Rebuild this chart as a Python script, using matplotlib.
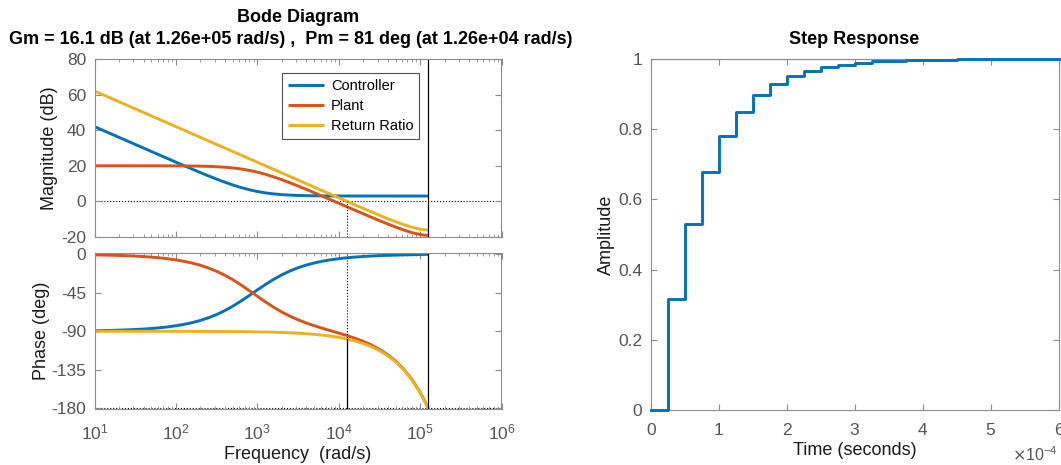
import numpy as np
import matplotlib
matplotlib.use('Agg')
import matplotlib.pyplot as plt
from matplotlib.ticker import LogLocator, NullFormatter

plt.rcParams['font.family'] = ['Liberation Sans', 'DejaVu Sans']
plt.rcParams['axes.unicode_minus'] = False

# ---------------- data ----------------
log_freq = [1.0, 1.1, 1.2, 1.3, 1.4, 1.5, 1.6, 1.7, 1.8, 1.9,
            2.0, 2.1, 2.2, 2.3, 2.4, 2.5, 2.6, 2.7, 2.8, 2.9,
            3.0, 3.1, 3.2, 3.3, 3.4, 3.5, 3.6, 3.7, 3.8, 3.9,
            4.0, 4.1, 4.2, 4.3, 4.4, 4.5, 4.6, 4.7, 4.8, 4.9,
            5.0, 5.05, 5.0992]

ctrl_mag = [42.01, 40.01, 38.01, 36.01, 34.01, 32.02, 30.02, 28.02, 26.03, 24.04,
            22.06, 20.10, 18.15, 16.22, 14.34, 12.53, 10.80, 9.21, 7.78, 6.56,
            5.56, 4.78, 4.21, 3.81, 3.54, 3.35, 3.23, 3.15, 3.10, 3.07,
            3.06, 3.05, 3.04, 3.03, 3.03, 3.03, 3.03, 3.02, 3.02, 3.02,
            3.02, 3.02, 3.02]
plant_mag = [20.00, 20.00, 20.00, 20.00, 20.00, 19.99, 19.99, 19.99, 19.98, 19.97,
             19.95, 19.91, 19.86, 19.79, 19.67, 19.48, 19.21, 18.80, 18.23, 17.45,
             16.45, 15.23, 13.80, 12.20, 10.47, 8.66, 6.78, 4.86, 2.91, 0.95,
             -1.03, -3.00, -4.97, -6.93, -8.88, -10.79, -12.66, -14.44, -16.10, -17.54,
             -18.62, -18.95, -19.08]
rr_mag = [62.01, 60.01, 58.01, 56.01, 54.01, 52.01, 50.01, 48.01, 46.01, 44.01,
          42.01, 40.01, 38.01, 36.01, 34.01, 32.01, 30.01, 28.01, 26.01, 24.01,
          22.01, 20.01, 18.01, 16.01, 14.01, 12.01, 10.01, 8.01, 6.02, 4.02,
          2.03, 0.05, -1.93, -3.90, -5.85, -7.76, -9.63, -11.41, -13.07, -14.51,
          -15.60, -15.93, -16.05]

ctrl_phase = [-89.36, -89.19, -88.98, -88.71, -88.38, -87.96, -87.44, -86.78, -85.95, -84.90,
              -83.59, -81.95, -79.90, -77.36, -74.24, -70.44, -65.90, -60.61, -54.65, -48.24,
              -41.67, -35.25, -29.30, -24.03, -19.50, -15.70, -12.59, -10.05, -8.01, -6.37,
              -5.06, -4.01, -3.17, -2.50, -1.96, -1.53, -1.17, -0.89, -0.63, -0.41,
              -0.21, -0.11, 0.0]
plant_phase = [-0.65, -0.82, -1.03, -1.30, -1.64, -2.06, -2.59, -3.26, -4.10, -5.16,
               -6.48, -8.14, -10.21, -12.78, -15.94, -19.79, -24.39, -29.75, -35.80, -42.33,
               -49.05, -55.65, -61.83, -67.40, -72.30, -76.56, -80.26, -83.54, -86.51, -89.32,
               -92.10, -95.01, -98.18, -101.79, -106.03, -111.12, -117.34, -125.01, -134.56, -146.48,
               -161.41, -170.25, -180.0]
rr_phase = [-90.01, -90.01, -90.01, -90.01, -90.02, -90.02, -90.03, -90.04, -90.05, -90.06,
            -90.07, -90.09, -90.11, -90.14, -90.18, -90.23, -90.29, -90.36, -90.45, -90.57,
            -90.72, -90.90, -91.13, -91.43, -91.80, -92.26, -92.85, -93.59, -94.52, -95.69,
            -97.16, -99.02, -101.35, -104.29, -107.99, -112.65, -118.51, -125.90, -135.19, -146.89,
            -161.62, -170.36, -180.0]

series_names = ['Controller', 'Plant', 'Return Ratio']
series_colors = ['#0072BD', '#D95319', '#EDB120']

gm_freq = 1.2566e5      # gain-margin frequency (rad/s)
pm_freq = 1.26e4        # phase-margin frequency (rad/s)
pm_phase = -99.0        # loop phase at crossover (deg)

step_time = [0.0, 0.25e-4, 0.5e-4, 0.75e-4, 1.0e-4, 1.25e-4, 1.5e-4, 1.75e-4, 2.0e-4,
             2.25e-4, 2.5e-4, 2.75e-4, 3.0e-4, 3.25e-4, 3.5e-4, 3.75e-4, 4.0e-4,
             4.25e-4, 4.5e-4, 4.75e-4, 5.0e-4, 5.25e-4, 5.5e-4, 5.75e-4, 6.0e-4]
step_amp = [0.0, 0.315, 0.531, 0.679, 0.780, 0.849, 0.897, 0.929, 0.952,
            0.967, 0.977, 0.984, 0.989, 0.993, 0.995, 0.997, 0.998,
            0.998, 0.999, 0.999, 1.0, 1.0, 1.0, 1.0, 1.0]

title_bode = 'Bode Diagram'
title_margin = 'Gm = 16.1 dB (at 1.26e+05 rad/s) ,  Pm = 81 deg (at 1.26e+04 rad/s)'

# ---------------- style ----------------
TICK_COL = '#555555'
SPINE_COL = '#8c8c8c'
LAB_COL = '#1a1a1a'
LW = 2.1

fig = plt.figure(figsize=(10.61, 4.65), dpi=100)
W, H = 1061, 465

def px_axes(x0, y0, x1, y1):
    return fig.add_axes([x0 / W, 1 - y1 / H, (x1 - x0) / W, (y1 - y0) / H])

ax_mag = px_axes(94.5, 59, 501.5, 237)
ax_ph = px_axes(94.5, 253.5, 501.5, 409)
ax_st = px_axes(650.7, 59, 1058.5, 410)

def style(ax):
    for s in ax.spines.values():
        s.set_color(SPINE_COL)
        s.set_linewidth(0.8)
    ax.tick_params(which='both', direction='in', top=True, right=True,
                   colors=SPINE_COL, labelcolor=TICK_COL, labelsize=12.5)
    ax.tick_params(which='major', length=4, width=0.8)
    ax.tick_params(which='minor', length=2, width=0.6)
    ax.tick_params(axis='x', which='major', pad=9.5)
    ax.tick_params(axis='y', which='major', pad=6)

freq = 10 ** np.array(log_freq)
mags = [ctrl_mag, plant_mag, rr_mag]
phases = [ctrl_phase, plant_phase, rr_phase]

for ax in (ax_mag, ax_ph):
    ax.set_xscale('log')
    ax.set_xlim(10, 1e6)
    ax.xaxis.set_major_locator(LogLocator(base=10, numticks=10))
    ax.xaxis.set_minor_locator(LogLocator(base=10, subs=np.arange(2, 10), numticks=20))
    ax.xaxis.set_minor_formatter(NullFormatter())
    style(ax)

# magnitude
for m, name, c in zip(mags, series_names, series_colors):
    ax_mag.plot(freq, m, color=c, lw=LW, label=name, solid_capstyle='butt')
ax_mag.set_ylim(-20, 80)
ax_mag.set_yticks([-20, 0, 20, 40, 60, 80])
ax_mag.tick_params(axis='x', labelbottom=False)
ax_mag.axhline(0, color='black', ls=':', lw=0.8, zorder=1)
ax_mag.plot([pm_freq, pm_freq], [-20, 0], color='black', ls=':', lw=0.8)
ax_mag.axvline(gm_freq, color='black', lw=0.9)
ax_mag.set_ylabel('Magnitude (dB)', fontsize=13, color=LAB_COL, va='center')
ax_mag.yaxis.set_label_coords((50 - 94.5) / 407, 0.5)
leg = ax_mag.legend(loc='upper left', bbox_to_anchor=(0.461, 0.921), fontsize=10.5,
                    frameon=True, fancybox=False, edgecolor='#262626',
                    handlelength=2.5, handletextpad=0.45, borderpad=0.4,
                    labelspacing=0.42, borderaxespad=0)
leg.get_frame().set_linewidth(0.8)

# phase
for p, c in zip(phases, series_colors):
    ax_ph.plot(freq, p, color=c, lw=LW, solid_capstyle='butt')
ax_ph.set_ylim(-181, 1)
ax_ph.set_yticks([-180, -135, -90, -45, 0])
ax_ph.axhline(-180, color='black', ls=':', lw=0.8, zorder=1)
ax_ph.plot([pm_freq, pm_freq], [0, pm_phase], color='black', ls=':', lw=0.8)
ax_ph.plot([pm_freq, pm_freq], [pm_phase, -180], color='black', lw=0.9)
ax_ph.axvline(gm_freq, color='black', lw=0.9)
ax_ph.set_ylabel('Phase (deg)', fontsize=13, color=LAB_COL, va='center')
ax_ph.yaxis.set_label_coords((41 - 94.5) / 407, 0.5)
ax_ph.set_xlabel('Frequency  (rad/s)', fontsize=13, color=LAB_COL, va='center')
ax_ph.xaxis.set_label_coords(0.5, -(454 - 409) / 155.5)

fig.text(298 / W, 1 - 17 / H, title_bode, ha='center', va='center',
         fontsize=13, fontweight='bold')
fig.text(291 / W, 1 - 40 / H, title_margin, ha='center', va='center',
         fontsize=13, fontweight='bold')

# step response
style(ax_st)
ax_st.step(step_time, step_amp, where='post', color='#0072BD', lw=LW, clip_on=False, zorder=3)
ax_st.axhline(1.0, color='black', ls=':', lw=0.8, zorder=1)
ax_st.set_xlim(0, 6e-4)
ax_st.set_ylim(0, 1)
ax_st.set_xticks([0, 1e-4, 2e-4, 3e-4, 4e-4, 5e-4, 6e-4])
ax_st.set_xticklabels(['0', '1', '2', '3', '4', '5', '6'])
ax_st.set_yticks([0, 0.2, 0.4, 0.6, 0.8, 1])
ax_st.set_yticklabels(['0', '0.2', '0.4', '0.6', '0.8', '1'])
ax_st.set_xlabel('Time (seconds)', fontsize=13, color=LAB_COL, va='center')
ax_st.xaxis.set_label_coords(0.5, -(450 - 410) / 351)
ax_st.set_ylabel('Amplitude', fontsize=13, color=LAB_COL, va='center')
ax_st.yaxis.set_label_coords((606 - 650.7) / 407.8, 0.5)
fig.text(854.6 / W, 1 - 40 / H, 'Step Response', ha='center', va='center',
         fontsize=13, fontweight='bold')
fig.text(1058 / W, 1 - 455 / H, r'$\times\mathregular{10^{-4}}$', ha='right', va='center',
         fontsize=11.5, color=TICK_COL)

fig.savefig('out.png', dpi=100)
